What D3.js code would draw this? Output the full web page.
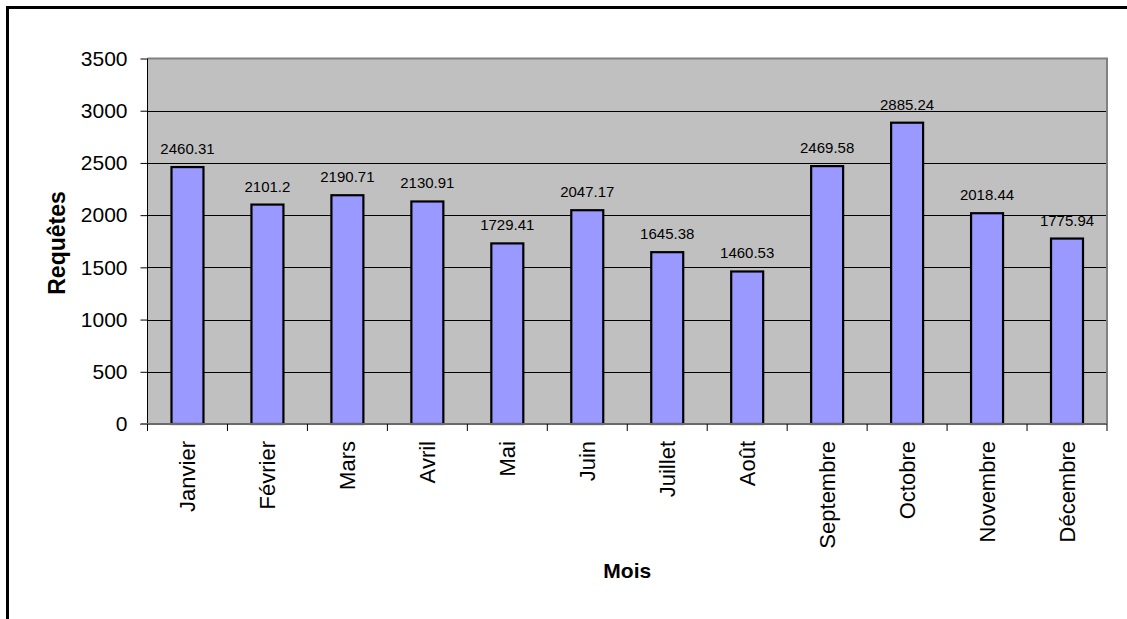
<!DOCTYPE html>
<html>
<head>
<meta charset="utf-8">
<script src="https://cdn.jsdelivr.net/npm/d3@7"></script>
<style>
  html, body { margin: 0; padding: 0; background: #fff; }
  svg { display: block; font-family: "Liberation Sans", Arial, sans-serif; }
</style>
</head>
<body>
<svg id="chart" width="1127" height="619"></svg>
<script>
// Monthly request counts
const months = ["Janvier", "Février", "Mars", "Avril", "Mai", "Juin",
                "Juillet", "Août", "Septembre", "Octobre", "Novembre", "Décembre"];
const requests = [2460.31, 2101.2, 2190.71, 2130.91, 1729.41, 2047.17,
                  1645.38, 1460.53, 2469.58, 2885.24, 2018.44, 1775.94];
const yTicks = [0, 500, 1000, 1500, 2000, 2500, 3000, 3500];
const yTitle = "Requêtes";
const xTitle = "Mois";

const svg = d3.select("#chart");
const W = 1127, H = 619;

svg.append("rect").attr("width", W).attr("height", H).attr("fill", "#fff");

// chart frame (top and left edges visible)
svg.append("path")
  .attr("d", `M7.5,${H} V7.5 H${W}`)
  .attr("fill", "none").attr("stroke", "#000").attr("stroke-width", 3);

const plot = { left: 147.5, right: 1107, top: 58.5, bottom: 424 };

const x = d3.scaleBand()
  .domain(months)
  .range([plot.left, plot.right])
  .paddingInner(0.6)
  .paddingOuter(0.3);

const y = d3.scaleLinear()
  .domain([0, 3500])
  .range([plot.bottom, plot.top]);

// plot background
svg.append("rect")
  .attr("x", plot.left).attr("y", plot.top)
  .attr("width", plot.right - plot.left).attr("height", plot.bottom - plot.top)
  .attr("fill", "#c0c0c0");

// horizontal gridlines
svg.append("g").selectAll("line")
  .data(yTicks.filter(t => t > 0 && t < 3500))
  .join("line")
  .attr("x1", plot.left).attr("x2", plot.right)
  .attr("y1", d => Math.round(y(d)) + 0.5).attr("y2", d => Math.round(y(d)) + 0.5)
  .attr("stroke", "#000").attr("stroke-width", 1);

// plot border: top and right
svg.append("path")
  .attr("d", `M${plot.left},${plot.top} H${plot.right} V${plot.bottom}`)
  .attr("fill", "none").attr("stroke", "#808080").attr("stroke-width", 2);

const rows = months.map((m, i) => ({ m, v: requests[i] }));

// bars
svg.append("g").selectAll("rect")
  .data(rows)
  .join("rect")
  .attr("x", d => x(d.m))
  .attr("y", d => y(d.v))
  .attr("width", x.bandwidth())
  .attr("height", d => y(0) - y(d.v))
  .attr("fill", "#9999ff")
  .attr("stroke", "#000")
  .attr("stroke-width", 2.2);

// value labels
svg.append("g").selectAll("text")
  .data(rows)
  .join("text")
  .attr("x", d => x(d.m) + x.bandwidth() / 2)
  .attr("y", d => y(d.v) - 13)
  .attr("text-anchor", "middle")
  .attr("font-size", 15)
  .attr("fill", "#000")
  .text(d => String(d.v));

// y axis
const yAxis = d3.axisLeft(y)
  .tickValues(yTicks)
  .tickSize(7)
  .tickPadding(13)
  .tickFormat(d3.format("d"));
const gy = svg.append("g")
  .attr("transform", `translate(${plot.left},0)`)
  .call(yAxis);
gy.select(".domain").remove();
gy.selectAll(".tick line").attr("stroke", "#000");
gy.selectAll(".tick text")
  .attr("font-size", 21)
  .attr("font-family", "'Liberation Sans', Arial, sans-serif")
  .attr("fill", "#000");
gy.append("line")
  .attr("x1", 0).attr("x2", 0)
  .attr("y1", plot.top).attr("y2", plot.bottom)
  .attr("stroke", "#000").attr("stroke-width", 1);

// x axis line and category ticks at band boundaries
svg.append("line")
  .attr("x1", plot.left - 7).attr("x2", plot.right)
  .attr("y1", plot.bottom).attr("y2", plot.bottom)
  .attr("stroke", "#6a6a6a").attr("stroke-width", 2);

svg.append("g").selectAll("line")
  .data(d3.range(months.length + 1))
  .join("line")
  .attr("x1", i => plot.left + i * x.step())
  .attr("x2", i => plot.left + i * x.step())
  .attr("y1", plot.bottom).attr("y2", plot.bottom + 7)
  .attr("stroke", "#000").attr("stroke-width", 1);

// rotated month labels
svg.append("g").selectAll("text")
  .data(months)
  .join("text")
  .attr("transform", d => `translate(${x(d) + x.bandwidth() / 2},441) rotate(-90)`)
  .attr("text-anchor", "end")
  .attr("dy", "0.35em")
  .attr("font-size", 22)
  .attr("fill", "#000")
  .text(d => d);

// axis titles
svg.append("text")
  .attr("transform", `translate(65,243) rotate(-90)`)
  .attr("text-anchor", "middle")
  .attr("font-size", 23)
  .attr("font-weight", "bold")
  .attr("fill", "#000")
  .text(yTitle);

svg.append("text")
  .attr("x", (plot.left + plot.right) / 2)
  .attr("y", 578)
  .attr("text-anchor", "middle")
  .attr("font-size", 21)
  .attr("font-weight", "bold")
  .attr("fill", "#000")
  .text(xTitle);
</script>
</body>
</html>
